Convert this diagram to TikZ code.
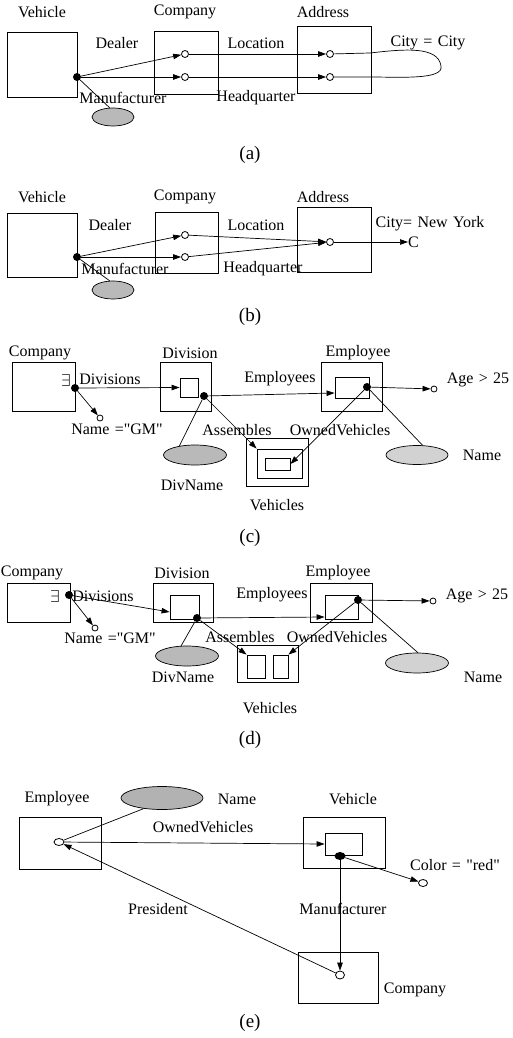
\documentclass[tikz,border=0pt]{standalone}
\usepackage{fontspec}
\setmainfont{Liberation Serif}
\usetikzlibrary{shapes.geometric,arrows.meta}
\newcommand\sq{\XeTeXglyph\XeTeXcharglyph"0022\relax}
\begin{document}
\begin{tikzpicture}[x=1pt,y=-1pt,
  box/.style={draw,rectangle,inner sep=0pt,line width=0.9pt},
  dotn/.style={circle,fill=black,inner sep=0pt,minimum size=8pt},
  hol/.style={circle,draw,fill=white,inner sep=0pt,minimum size=7pt,line width=0.8pt},
  blob/.style={ellipse,draw,fill=gray!55,inner sep=0pt,line width=0.7pt},
  lbl/.style={inner sep=0pt,font=\fontsize{16}{18}\selectfont},
  panelcap/.style={inner sep=0pt,font=\fontsize{19}{21}\selectfont},
  arr/.style={-{Triangle[length=8pt,width=5.5pt]},line width=0.7pt},
  ln/.style={line width=0.7pt}]
\useasboundingbox (0,0) rectangle (512,1038);

% ---------------- (a)
\node[box,minimum width=70pt,minimum height=65pt] (va) at (42,64.5) {};
\node[box,minimum width=64pt,minimum height=63pt] (ca) at (186,62.5) {};
\node[box,minimum width=74pt,minimum height=67pt] (aa) at (334,59.5) {};
\node[lbl] (lva) at (42,12) {Vehicle};
\node[lbl] (lca) at (185,12) {Company};
\node[lbl] (laa) at (323,12) {Address};
\node[dotn] (da) at (77,77) {};
\node[hol] (c1a) at (185,54) {};
\node[hol] (c2a) at (185,77) {};
\node[hol] (a1a) at (330,54) {};
\node[hol] (a2a) at (330,77) {};
\node[blob,minimum width=42pt,minimum height=18pt] (ea) at (113,117) {};
\draw[arr] (da) -- (c1a);
\draw[arr] (da) -- (c2a);
\draw[arr] (c1a) -- (a1a);
\draw[arr] (c2a) -- (a2a);
\draw[ln] (da) -- (ea.110);
\coordinate (la1) at (370,53);
\coordinate (la2) at (370,77);
\draw[ln] (a1a) -- (la1) .. controls (405,49) and (438,46) .. (441,66)
  .. controls (444,80) and (400,77) .. (la2) -- (a2a);
\node[lbl] (tda) at (117,43) {Dealer};
\node[lbl] (tla) at (256,43) {Location};
\node[lbl] (tcc) at (428,43) {City\,\,=\,\,City};
\node[lbl] (tma) at (123,98) {Manufacturer};
\node[lbl] (tha) at (256,98) {Headquarter};
\node[panelcap] (pa) at (250,155) {(a)};

% ---------------- (b)
\node[box,minimum width=70pt,minimum height=64pt] (vb) at (42,245) {};
\node[box,minimum width=63pt,minimum height=61pt] (cb) at (186.5,242.5) {};
\node[box,minimum width=74pt,minimum height=65pt] (ab) at (334,239.5) {};
\node[lbl] (lvb) at (42,197) {Vehicle};
\node[lbl] (lcb) at (185,197) {Company};
\node[lbl] (lab) at (323,197) {Address};
\node[dotn] (db) at (77,257) {};
\node[hol] (c1b) at (185,235) {};
\node[hol] (c2b) at (185,257) {};
\node[hol] (a1b) at (330,242) {};
\node[lbl,anchor=west] (cnb) at (408,242) {C};
\node[blob,minimum width=42pt,minimum height=18pt] (eb) at (113,290) {};
\draw[arr] (db) -- (c1b);
\draw[arr] (db) -- (c2b);
\draw[arr] (c1b) -- (a1b);
\draw[arr] (c2b) -- (a1b);
\draw[arr] (a1b) -- (cnb);
\draw[ln] (db) -- (eb.110);
\node[lbl] (tdb) at (110,225) {Dealer};
\node[lbl] (tlb) at (256,225) {Location};
\node[lbl] (tny) at (430,224) {City=\,\,New\,\,York};
\node[lbl] (tmb) at (125,269) {Manufacturer};
\node[lbl] (thb) at (263,269) {Headquarter};
\node[panelcap] (pb) at (250,317) {(b)};

% ---------------- (c)
\node[box,minimum width=63pt,minimum height=49pt] (cc) at (43.5,386.5) {};
\node[box,minimum width=51pt,minimum height=49pt] (dc) at (185.5,386.5) {};
\node[box,minimum width=18pt,minimum height=19pt] (idc) at (189,387.5) {};
\node[box,minimum width=61pt,minimum height=49pt] (ec) at (351.5,386.5) {};
\node[box,minimum width=34pt,minimum height=21pt] (iec) at (352,387.5) {};
\node[box,minimum width=62pt,minimum height=48pt] (vc) at (277,462) {};
\node[box,minimum width=45pt,minimum height=29pt] (vic) at (279.5,463.5) {};
\node[box,minimum width=25pt,minimum height=12pt] (vnc) at (277.5,464) {};
\node[lbl] (lcc) at (40,353) {Company};
\node[lbl] (ldc) at (190,353) {Division};
\node[lbl] (lec) at (358,353) {Employee};
\node[lbl] (exc) at (66,380) {$\exists$};
\node[dotn] (dcc) at (75,388) {};
\node[dotn] (ddc) at (204,396) {};
\node[dotn] (dec) at (367,387) {};
\node[hol,minimum size=6pt] (gmc) at (100,418) {};
\node[hol,minimum size=6pt] (agc) at (434,389) {};
\node[blob,minimum width=63pt,minimum height=20pt] (dnc) at (195,455) {};
\node[blob,fill=gray!35,minimum width=62pt,minimum height=19pt] (nmc) at (417,455) {};
\draw[arr] (dcc) -- (idc.west);
\draw[arr] (dcc) -- (gmc);
\draw[arr] (ddc) -- ([yshift=-5.5pt]iec.west);
\draw[arr] (dec) -- (agc);
\draw[ln] (ddc) -- (dnc.150);
\draw[ln] (dec) -- (nmc.60);
\draw[arr] (ddc) -- (vic.north west);
\draw[arr] (dec) -- (vnc.east);
\node[lbl] (tdvc) at (110,379) {Divisions};
\node[lbl] (temc) at (280,379) {Employees};
\node[lbl] (tagc) at (478,380) {Age\,\,>\,\,25};
\node[lbl] (tgmc) at (117,429) {Name\,\,=\sq GM\sq};
\node[lbl] (tasc) at (237,430) {Assembles};
\node[lbl] (tovc) at (340,430) {OwnedVehicles};
\node[lbl] (tnmc) at (482,455) {Name};
\node[lbl] (tdnc) at (192,485) {DivName};
\node[lbl] (tvhc) at (277,505) {Vehicles};
\node[panelcap] (pc) at (250,538) {(c)};

% ---------------- (d)
\node[box,minimum width=63pt,minimum height=39pt] (cd) at (38.5,602.5) {};
\node[box,minimum width=60pt,minimum height=39pt] (dd) at (183,602.5) {};
\node[box,minimum width=29pt,minimum height=24pt] (idd) at (184.5,607) {};
\node[box,minimum width=62pt,minimum height=39pt] (ed) at (341,602.5) {};
\node[box,minimum width=33pt,minimum height=24pt] (ied) at (341.5,607) {};
\node[box,minimum width=61pt,minimum height=37pt] (vd) at (267.5,663.5) {};
\node[box,minimum width=18pt,minimum height=23pt] (r1d) at (256,666.5) {};
\node[box,minimum width=15pt,minimum height=23pt] (r2d) at (280.5,666.5) {};
\node[lbl] (lcd) at (32,573) {Company};
\node[lbl] (ldd) at (182,573) {Division};
\node[lbl] (led) at (338,573) {Employee};
\node[lbl] (exd) at (55,596) {$\exists$};
\node[dotn] (dcd) at (69,595) {};
\node[dotn] (ddd) at (197,618) {};
\node[dotn] (ded) at (358,600) {};
\node[hol,minimum size=6pt] (gmd) at (95,628) {};
\node[hol,minimum size=6pt] (agd) at (433,601) {};
\node[blob,minimum width=63pt,minimum height=20pt] (dnd) at (187,656) {};
\node[blob,fill=gray!35,minimum width=63pt,minimum height=20pt] (nmd) at (417,663) {};
\draw[arr] (dcd) -- ([yshift=-5pt]idd.west);
\draw[arr] (dcd) -- (gmd);
\draw[arr] (ddd) -- ([yshift=-10pt]ied.west);
\draw[arr] (ded) -- (agd);
\draw[ln] (ddd) -- (dnd.120);
\draw[ln] (ded) -- (nmd.85);
\draw[arr] (ddd) -- (r1d.north west);
\draw[arr] (ded) -- (r2d.north east);
\node[lbl] (tdvd) at (103,596) {Divisions};
\node[lbl] (temd) at (272,595) {Employees};
\node[lbl] (tagd) at (477,596) {Age\,\,>\,\,25};
\node[lbl] (tgmd) at (110,638) {Name\,\,=\sq GM\sq};
\node[lbl] (tasd) at (240,637) {Assembles};
\node[lbl] (tovd) at (337,637) {OwnedVehicles};
\node[lbl] (tnmd) at (483,677) {Name};
\node[lbl] (tdnd) at (183,677) {DivName};
\node[lbl] (tvhd) at (270,708) {Vehicles};
\node[panelcap] (pd) at (250,740) {(d)};

% ---------------- (e)
\node[box,minimum width=82pt,minimum height=52pt] (ee) at (60,843) {};
\node[box,minimum width=82pt,minimum height=51pt] (ve) at (344,842.5) {};
\node[box,minimum width=37pt,minimum height=22pt] (ive) at (343.5,844) {};
\node[box,minimum width=80pt,minimum height=51pt] (ce) at (338,977.5) {};
\node[lbl] (lee) at (57,799) {Employee};
\node[lbl] (lve) at (353,799) {Vehicle};
\node[lbl] (lce) at (415,990) {Company};
\node[hol,ellipse,minimum width=10pt,minimum height=7pt] (eoe) at (59,842) {};
\node[dotn,ellipse,minimum width=11pt,minimum height=8pt] (vde) at (340,856) {};
\node[hol,ellipse,minimum width=9pt,minimum height=7pt] (coe) at (423,883) {};
\node[hol,ellipse,minimum width=9pt,minimum height=8pt] (cpe) at (340,975) {};
\node[blob,fill=gray!60,minimum width=82pt,minimum height=23pt] (nme) at (162,798) {};
\draw[arr] (eoe) -- (ive.west);
\draw[ln] (eoe) -- (nme.210);
\draw[arr] (vde) -- (coe);
\draw[arr] (vde) -- (cpe);
\draw[arr] (cpe) -- (eoe);
\node[lbl] (tnme) at (237,799) {Name};
\node[lbl] (tove) at (203,827) {OwnedVehicles};
\node[lbl] (tcre) at (455,865) {Color\,\,=\,\,\sq red\sq};
\node[lbl] (tpre) at (158,909) {President};
\node[lbl] (tmfe) at (343,909) {Manufacturer};
\node[panelcap] (pe) at (250,1023) {(e)};
\end{tikzpicture}
\end{document}
